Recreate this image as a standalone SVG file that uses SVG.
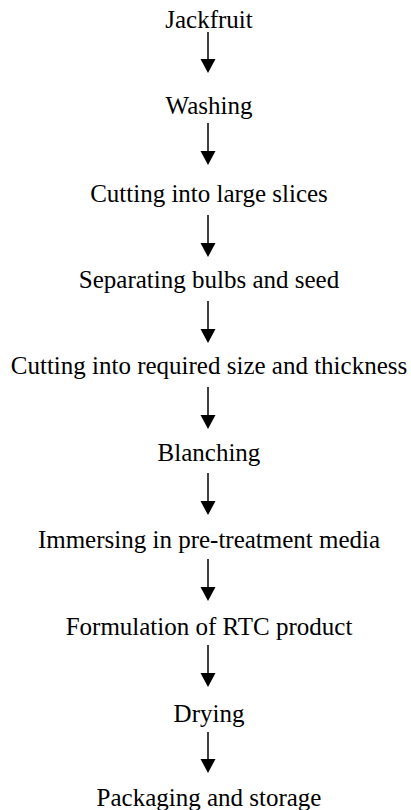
<svg xmlns="http://www.w3.org/2000/svg" width="411" height="810" viewBox="0 0 411 810">
<style>
text{font-family:"Liberation Serif","Times New Roman",serif;font-size:25px;fill:#000;text-anchor:middle}
.c line{stroke:#000;stroke-width:1.5}
.c polygon{fill:#000}
</style>
<rect width="411" height="810" fill="#fff"/>
<g id="n1"><text x="209" y="28">Jackfruit</text></g>
<g id="n2"><text x="209" y="114">Washing</text></g>
<g id="n3"><text x="209" y="202">Cutting into large slices</text></g>
<g id="n4"><text x="209" y="288">Separating bulbs and seed</text></g>
<g id="n5"><text x="209" y="374">Cutting into required size and thickness</text></g>
<g id="n6"><text x="209" y="461">Blanching</text></g>
<g id="n7"><text x="209" y="548">Immersing in pre-treatment media</text></g>
<g id="n8"><text x="209" y="635">Formulation of RTC product</text></g>
<g id="n9"><text x="209" y="722">Drying</text></g>
<g id="n10"><text x="209" y="806">Packaging and storage</text></g>
<g class="c" id="connectors">
<line x1="208" y1="32" x2="208" y2="60"/><polygon points="200.5,59 215.5,59 208,73"/>
<line x1="208" y1="123" x2="208" y2="152"/><polygon points="200.5,151 215.5,151 208,165"/>
<line x1="208" y1="215" x2="208" y2="244"/><polygon points="200.5,243 215.5,243 208,257"/>
<line x1="208" y1="301" x2="208" y2="330"/><polygon points="200.5,329 215.5,329 208,343"/>
<line x1="208" y1="387" x2="208" y2="416"/><polygon points="200.5,415 215.5,415 208,429"/>
<line x1="208" y1="473" x2="208" y2="502"/><polygon points="200.5,501 215.5,501 208,515"/>
<line x1="208" y1="559" x2="208" y2="588"/><polygon points="200.5,587 215.5,587 208,601"/>
<line x1="208" y1="645" x2="208" y2="674"/><polygon points="200.5,673 215.5,673 208,687"/>
<line x1="208" y1="732" x2="208" y2="760"/><polygon points="200.5,759 215.5,759 208,773"/>
</g>
</svg>
